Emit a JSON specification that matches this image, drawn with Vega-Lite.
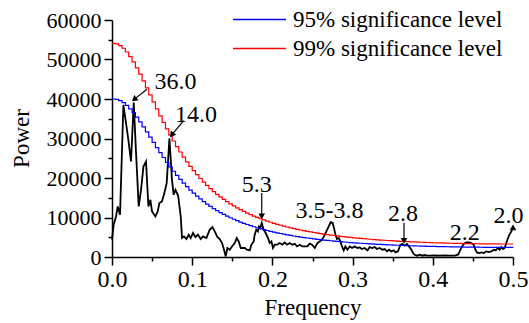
{
  "$schema": "https://vega.github.io/schema/vega-lite/v6.json",
  "width": 401,
  "height": 237,
  "autosize": {"type": "none"},
  "padding": {"left": 112, "top": 20, "right": 16, "bottom": 66},
  "background": "white",
  "config": {
    "view": {"stroke": null},
    "font": "Times New Roman, Liberation Serif, DejaVu Serif, serif",
    "axis": {
      "domainColor": "black", "domainWidth": 1.5, "tickColor": "black", "tickWidth": 1.5,
      "labelColor": "black", "labelFont": "Times New Roman, Liberation Serif, DejaVu Serif, serif", "titleFont": "Times New Roman, Liberation Serif, DejaVu Serif, serif",
      "titleFontWeight": "normal", "titleColor": "black", "grid": false
    },
    "legend": {"labelFont": "Times New Roman, Liberation Serif, DejaVu Serif, serif"},
    "text": {"font": "Times New Roman, Liberation Serif, DejaVu Serif, serif"}
  },
  "datasets": {
    "spec": [
      {"f":0,"v":4400},{"f":0.0021,"v":8160},{"f":0.005,"v":10260},{"f":0.0071,"v":12790},{"f":0.01,"v":10700},
      {"f":0.0142,"v":38500},{"f":0.0175,"v":33870},{"f":0.0204,"v":29650},{"f":0.0237,"v":24170},{"f":0.0271,"v":39090},
      {"f":0.0299,"v":26700},{"f":0.0333,"v":12790},{"f":0.0362,"v":17010},{"f":0.0392,"v":22900},{"f":0.0424,"v":24170},
      {"f":0.0454,"v":12790},{"f":0.0479,"v":14490},{"f":0.0499,"v":11530},{"f":0.0541,"v":10260},{"f":0.057,"v":11530},
      {"f":0.0591,"v":13650},{"f":0.0623,"v":14060},{"f":0.0653,"v":16180},{"f":0.0682,"v":18710},{"f":0.0716,"v":30080},
      {"f":0.0748,"v":19540},{"f":0.0769,"v":15750},{"f":0.0791,"v":17010},{"f":0.0825,"v":15500},{"f":0.0857,"v":10260},
      {"f":0.0873,"v":4800},{"f":0.0898,"v":5210},{"f":0.0928,"v":4550},{"f":0.0956,"v":5640},{"f":0.0981,"v":4800},
      {"f":0.101,"v":6070},{"f":0.104,"v":5060},{"f":0.1072,"v":5640},{"f":0.1106,"v":4550},{"f":0.1135,"v":5210},
      {"f":0.1177,"v":4800},{"f":0.1218,"v":6900},{"f":0.1252,"v":7580},{"f":0.1281,"v":6470},{"f":0.1314,"v":5060},
      {"f":0.1343,"v":4550},{"f":0.1372,"v":3540},{"f":0.1397,"v":1850},{"f":0.1418,"v":150},{"f":0.1439,"v":2280},
      {"f":0.1468,"v":1850},{"f":0.1496,"v":2680},{"f":0.153,"v":3540},{"f":0.1555,"v":4800},{"f":0.158,"v":3940},
      {"f":0.1605,"v":2280},{"f":0.1633,"v":2280},{"f":0.1655,"v":2280},{"f":0.1683,"v":1850},{"f":0.1717,"v":1670},
      {"f":0.1738,"v":3110},{"f":0.1767,"v":3940},{"f":0.1779,"v":5640},{"f":0.18,"v":6900},{"f":0.182,"v":6470},
      {"f":0.1833,"v":7740},{"f":0.185,"v":7330},{"f":0.1867,"v":8600},{"f":0.1892,"v":6900},{"f":0.1916,"v":6070},
      {"f":0.1945,"v":4800},{"f":0.1966,"v":3540},{"f":0.1988,"v":3940},{"f":0.2007,"v":2280},{"f":0.2029,"v":3110},
      {"f":0.2057,"v":3110},{"f":0.2091,"v":3540},{"f":0.2125,"v":3110},{"f":0.2153,"v":3690},{"f":0.2182,"v":3110},
      {"f":0.2216,"v":3540},{"f":0.2249,"v":3110},{"f":0.2278,"v":3360},{"f":0.2307,"v":2680},{"f":0.234,"v":3110},
      {"f":0.2374,"v":2680},{"f":0.2403,"v":2700},{"f":0.2436,"v":2700},{"f":0.2465,"v":3400},{"f":0.2494,"v":3110},
      {"f":0.2528,"v":2280},{"f":0.2561,"v":3540},{"f":0.259,"v":3940},{"f":0.2618,"v":4370},{"f":0.2643,"v":5210},
      {"f":0.2673,"v":6470},{"f":0.2702,"v":7740},{"f":0.2727,"v":8800},{"f":0.2752,"v":8600},{"f":0.2768,"v":7330},
      {"f":0.2786,"v":5640},{"f":0.2805,"v":4550},{"f":0.2827,"v":4800},{"f":0.2848,"v":3940},{"f":0.2868,"v":2680},
      {"f":0.2889,"v":1670},{"f":0.291,"v":2680},{"f":0.2935,"v":1850},{"f":0.2964,"v":2680},{"f":0.2993,"v":2280},
      {"f":0.3026,"v":2680},{"f":0.306,"v":2280},{"f":0.3089,"v":2430},{"f":0.3117,"v":2020},{"f":0.3151,"v":2280},
      {"f":0.3185,"v":1670},{"f":0.3213,"v":2500},{"f":0.3247,"v":2280},{"f":0.3276,"v":2530},{"f":0.3304,"v":2020},
      {"f":0.3338,"v":2280},{"f":0.3372,"v":1850},{"f":0.34,"v":2020},{"f":0.3429,"v":1420},{"f":0.3454,"v":1850},
      {"f":0.3484,"v":1420},{"f":0.3512,"v":1670},{"f":0.3537,"v":1160},{"f":0.3566,"v":1420},{"f":0.3596,"v":3110},
      {"f":0.3621,"v":3290},{"f":0.365,"v":2860},{"f":0.3678,"v":3290},{"f":0.3703,"v":2680},{"f":0.3733,"v":1850},
      {"f":0.3753,"v":1010},{"f":0.3774,"v":580},{"f":0.3803,"v":330},{"f":0.3837,"v":580},{"f":0.387,"v":330},
      {"f":0.3899,"v":500},{"f":0.3928,"v":330},{"f":0.3962,"v":330},{"f":0.4024,"v":400},{"f":0.4087,"v":330},
      {"f":0.4149,"v":400},{"f":0.4211,"v":330},{"f":0.4274,"v":330},{"f":0.4314,"v":580},{"f":0.4335,"v":1420},
      {"f":0.4364,"v":2680},{"f":0.4389,"v":3360},{"f":0.4419,"v":3690},{"f":0.4448,"v":3690},{"f":0.4481,"v":3540},
      {"f":0.451,"v":3110},{"f":0.4531,"v":1850},{"f":0.4551,"v":1160},{"f":0.4576,"v":1010},{"f":0.4606,"v":1160},
      {"f":0.4634,"v":1010},{"f":0.4668,"v":1420},{"f":0.4697,"v":1260},{"f":0.4731,"v":1420},{"f":0.4759,"v":1850},
      {"f":0.4784,"v":1670},{"f":0.4813,"v":2280},{"f":0.4834,"v":1850},{"f":0.4855,"v":2530},{"f":0.4875,"v":2020},
      {"f":0.4896,"v":2280},{"f":0.4909,"v":3110},{"f":0.493,"v":4370},{"f":0.4955,"v":5640},{"f":0.498,"v":6470},
      {"f":0.5,"v":7600}
    ],
    "sig": [
      {"f":0,"p95":40001,"p99":54101},{"f":0.00417,"p95":39897,"p99":53961},{"f":0.00833,"p95":39581,"p99":53533},
      {"f":0.0125,"p95":39072,"p99":52845},{"f":0.01667,"p95":38375,"p99":51902},{"f":0.02083,"p95":37519,"p99":50744},
      {"f":0.025,"p95":36527,"p99":49403},{"f":0.02917,"p95":35417,"p99":47901},{"f":0.03333,"p95":34221,"p99":46284},
      {"f":0.0375,"p95":32963,"p99":44583},{"f":0.04167,"p95":31663,"p99":42824},{"f":0.04583,"p95":30343,"p99":41039},
      {"f":0.05,"p95":29023,"p99":39254},{"f":0.05417,"p95":27714,"p99":37483},{"f":0.05833,"p95":26432,"p99":35749},
      {"f":0.0625,"p95":25184,"p99":34061},{"f":0.06667,"p95":23979,"p99":32432},{"f":0.07083,"p95":22820,"p99":30864},
      {"f":0.075,"p95":21711,"p99":29364},{"f":0.07917,"p95":20655,"p99":27936},{"f":0.08333,"p95":19652,"p99":26579},
      {"f":0.0875,"p95":18701,"p99":25293},{"f":0.09167,"p95":17802,"p99":24077},{"f":0.09583,"p95":16954,"p99":22930},
      {"f":0.1,"p95":16155,"p99":21850},{"f":0.10417,"p95":15402,"p99":20831},{"f":0.10833,"p95":14693,"p99":19872},
      {"f":0.1125,"p95":14027,"p99":18972},{"f":0.11667,"p95":13399,"p99":18122},{"f":0.12083,"p95":12810,"p99":17326},
      {"f":0.125,"p95":12256,"p99":16576},{"f":0.12917,"p95":11735,"p99":15872},{"f":0.13333,"p95":11245,"p99":15209},
      {"f":0.1375,"p95":10784,"p99":14585},{"f":0.14167,"p95":10349,"p99":13997},{"f":0.14583,"p95":9941,"p99":13445},
      {"f":0.15,"p95":9556,"p99":12924},{"f":0.15417,"p95":9193,"p99":12434},{"f":0.15833,"p95":8851,"p99":11971},
      {"f":0.1625,"p95":8528,"p99":11534},{"f":0.16667,"p95":8223,"p99":11122},{"f":0.17083,"p95":7935,"p99":10732},
      {"f":0.175,"p95":7663,"p99":10364},{"f":0.17917,"p95":7405,"p99":10015},{"f":0.18333,"p95":7162,"p99":9687},
      {"f":0.1875,"p95":6931,"p99":9374},{"f":0.19167,"p95":6712,"p99":9078},{"f":0.19583,"p95":6505,"p99":8798},
      {"f":0.2,"p95":6309,"p99":8533},{"f":0.20417,"p95":6122,"p99":8280},{"f":0.20833,"p95":5945,"p99":8041},
      {"f":0.2125,"p95":5777,"p99":7813},{"f":0.21667,"p95":5616,"p99":7596},{"f":0.22083,"p95":5464,"p99":7390},
      {"f":0.225,"p95":5319,"p99":7194},{"f":0.22917,"p95":5181,"p99":7007},{"f":0.23333,"p95":5050,"p99":6830},
      {"f":0.2375,"p95":4925,"p99":6661},{"f":0.24167,"p95":4805,"p99":6499},{"f":0.24583,"p95":4691,"p99":6345},
      {"f":0.25,"p95":4582,"p99":6197},{"f":0.25417,"p95":4479,"p99":6058},{"f":0.25833,"p95":4380,"p99":5924},
      {"f":0.2625,"p95":4285,"p99":5795},{"f":0.26667,"p95":4194,"p99":5672},{"f":0.27083,"p95":4108,"p99":5556},
      {"f":0.275,"p95":4025,"p99":5444},{"f":0.27917,"p95":3946,"p99":5337},{"f":0.28333,"p95":3870,"p99":5234},
      {"f":0.2875,"p95":3798,"p99":5137},{"f":0.29167,"p95":3728,"p99":5042},{"f":0.29583,"p95":3662,"p99":4953},
      {"f":0.3,"p95":3598,"p99":4866},{"f":0.30417,"p95":3537,"p99":4784},{"f":0.30833,"p95":3479,"p99":4705},
      {"f":0.3125,"p95":3423,"p99":4630},{"f":0.31667,"p95":3369,"p99":4557},{"f":0.32083,"p95":3318,"p99":4488},
      {"f":0.325,"p95":3269,"p99":4421},{"f":0.32917,"p95":3221,"p99":4356},{"f":0.33333,"p95":3176,"p99":4296},
      {"f":0.3375,"p95":3133,"p99":4237},{"f":0.34167,"p95":3092,"p99":4182},{"f":0.34583,"p95":3052,"p99":4128},
      {"f":0.35,"p95":3014,"p99":4076},{"f":0.35417,"p95":2978,"p99":4028},{"f":0.35833,"p95":2943,"p99":3980},
      {"f":0.3625,"p95":2909,"p99":3934},{"f":0.36667,"p95":2878,"p99":3893},{"f":0.37083,"p95":2847,"p99":3851},
      {"f":0.375,"p95":2818,"p99":3811},{"f":0.37917,"p95":2790,"p99":3774},{"f":0.38333,"p95":2764,"p99":3738},
      {"f":0.3875,"p95":2739,"p99":3704},{"f":0.39167,"p95":2715,"p99":3672},{"f":0.39583,"p95":2692,"p99":3641},
      {"f":0.4,"p95":2670,"p99":3611},{"f":0.40417,"p95":2649,"p99":3583},{"f":0.40833,"p95":2630,"p99":3557},
      {"f":0.4125,"p95":2611,"p99":3531},{"f":0.41667,"p95":2594,"p99":3508},{"f":0.42083,"p95":2577,"p99":3485},
      {"f":0.425,"p95":2562,"p99":3465},{"f":0.42917,"p95":2547,"p99":3445},{"f":0.43333,"p95":2533,"p99":3426},
      {"f":0.4375,"p95":2521,"p99":3410},{"f":0.44167,"p95":2509,"p99":3393},{"f":0.44583,"p95":2498,"p99":3379},
      {"f":0.45,"p95":2488,"p99":3365},{"f":0.45417,"p95":2478,"p99":3351},{"f":0.45833,"p95":2470,"p99":3341},
      {"f":0.4625,"p95":2462,"p99":3330},{"f":0.46667,"p95":2456,"p99":3322},{"f":0.47083,"p95":2450,"p99":3314},
      {"f":0.475,"p95":2445,"p99":3307},{"f":0.47917,"p95":2440,"p99":3300},{"f":0.48333,"p95":2437,"p99":3296},
      {"f":0.4875,"p95":2434,"p99":3292},{"f":0.49167,"p95":2432,"p99":3289},{"f":0.49583,"p95":2431,"p99":3288},
      {"f":0.5,"p95":2430,"p99":3287}
    ],
    "labels": [
      {"f":0.0792,"v":42470,"label":"36.0"},
      {"f":0.1047,"v":34280,"label":"14.0"},
      {"f":0.1804,"v":16330,"label":"5.3"},
      {"f":0.2711,"v":9860,"label":"3.5-3.8"},
      {"f":0.3628,"v":9000,"label":"2.8"},
      {"f":0.4398,"v":4370,"label":"2.2"},
      {"f":0.4943,"v":8600,"label":"2.0"}
    ],
    "arrows": [
      {"f":0.0436,"v":42470,"f2":0.0276,"v2":39900,"angle":231},
      {"f":0.0894,"v":34530,"f2":0.0745,"v2":30900,"angle":217},
      {"f":0.1867,"v":16180,"f2":0.1867,"v2":10300,"angle":180},
      {"f":0.3641,"v":8600,"f2":0.3641,"v2":4100,"angle":180},
      {"f":0.5,"v":7000,"f2":0.5,"v2":7500,"angle":0}
    ]
  },
  "encoding": {
    "x": {
      "field": "f", "type": "quantitative", "title": "Frequency",
      "scale": {"domain": [0, 0.5], "nice": false, "zero": false},
      "axis": {
        "values": [0,0.05,0.1,0.15,0.2,0.25,0.3,0.35,0.4,0.45,0.5],
        "format": ".1f",
        "labelExpr": "round(datum.value*20) % 2 === 0 ? datum.label : ''",
        "tickSize": {"condition": {"test": "round(datum.value*20) % 2 === 0", "value": 8}, "value": 4},
        "labelFontSize": 24, "labelPadding": 2, "labelFlush": false, "labelOverlap": false,
        "titleFontSize": 23, "titleY": 57, "titleBaseline": "alphabetic"
      }
    },
    "y": {
      "field": "v", "type": "quantitative", "title": "Power",
      "scale": {"domain": [0, 60000], "nice": false},
      "axis": {
        "values": [0,5000,10000,15000,20000,25000,30000,35000,40000,45000,50000,55000,60000],
        "format": "d",
        "labelExpr": "datum.value % 10000 === 0 ? datum.label : ''",
        "tickSize": {"condition": {"test": "datum.value % 10000 === 0", "value": 8}, "value": 4},
        "labelFontSize": 22, "labelPadding": 3, "labelFlush": false, "labelOverlap": false,
        "titleFontSize": 23, "titleX": -84, "titleY": 118, "titleAngle": -90,
        "titleBaseline": "alphabetic", "titleAlign": "center"
      }
    }
  },
  "layer": [
    {
      "data": {"name": "spec"},
      "mark": {"type": "line", "color": "black", "strokeWidth": 1.8}
    },
    {
      "data": {"name": "sig"},
      "transform": [{"fold": ["p95", "p99"], "as": ["level", "v"]}],
      "mark": {"type": "line", "strokeWidth": 1.2, "interpolate": "step-after"},
      "encoding": {
        "color": {
          "field": "level", "type": "nominal",
          "scale": {"domain": ["p95", "p99"], "range": ["#0000ff", "#ff0000"]},
          "legend": {
            "orient": "none", "legendX": 120, "legendY": -12, "title": null,
            "symbolType": "stroke", "symbolSize": 2809, "symbolStrokeWidth": 1.3,
            "labelFontSize": 23, "labelColor": "black",
            "labelOffset": 6, "rowPadding": 5, "clipHeight": 23, "padding": 0, "labelLimit": 400,
            "labelExpr": "datum.label === 'p95' ? '95% significance level' : '99% significance level'"
          }
        }
      }
    },
    {
      "data": {"name": "arrows"},
      "mark": {"type": "rule", "color": "black", "strokeWidth": 1.2},
      "encoding": {"x2": {"field": "f2"}, "y2": {"field": "v2"}}
    },
    {
      "data": {"name": "arrows"},
      "mark": {"type": "point", "shape": "triangle-up", "filled": true, "color": "black", "opacity": 1, "size": 45},
      "encoding": {
        "x": {"field": "f2", "type": "quantitative"},
        "y": {"field": "v2", "type": "quantitative"},
        "angle": {"field": "angle", "type": "quantitative", "scale": null}
      }
    },
    {
      "data": {"name": "labels"},
      "mark": {"type": "text", "fontSize": 24, "color": "black", "align": "center", "baseline": "alphabetic"},
      "encoding": {"text": {"field": "label", "type": "nominal"}}
    }
  ]
}
